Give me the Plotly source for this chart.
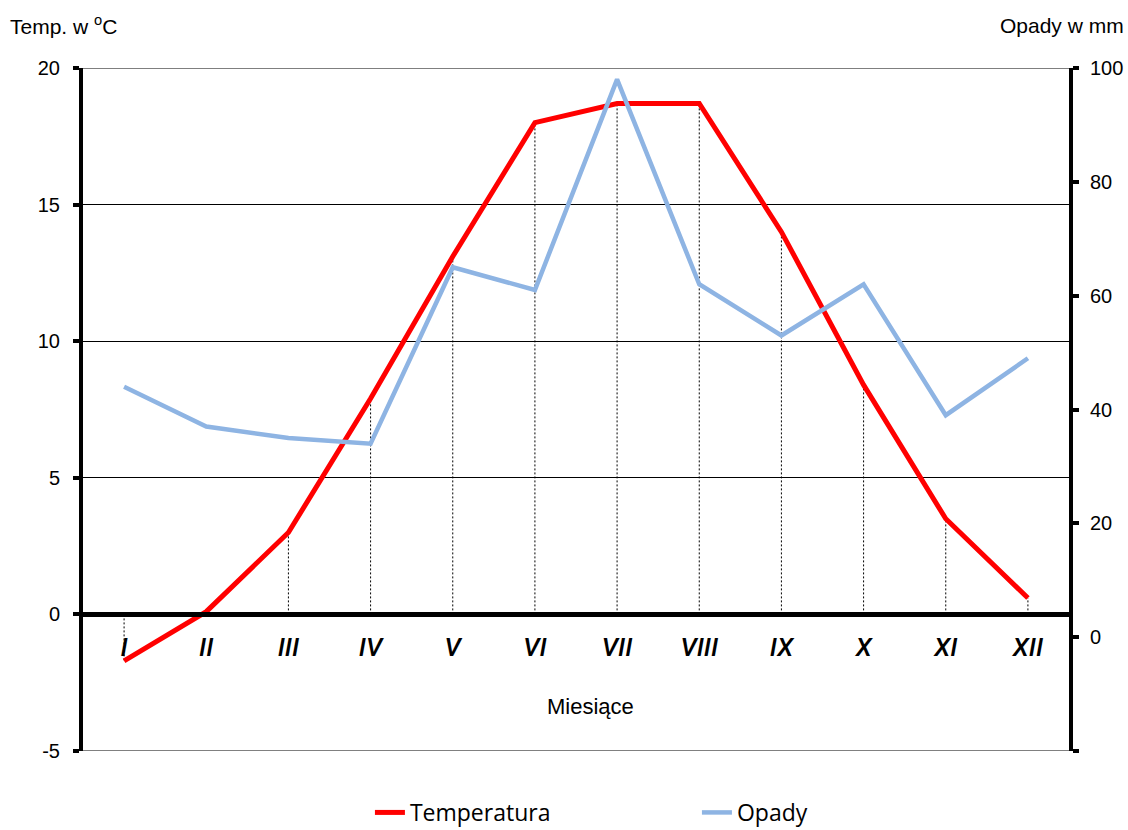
import plotly.graph_objects as go

months = ["I", "II", "III", "IV", "V", "VI", "VII", "VIII", "IX", "X", "XI", "XII"]
temperatura = [-1.7, 0.1, 3.0, 7.9, 13.1, 18.0, 18.7, 18.7, 14.0, 8.4, 3.5, 0.6]
opady = [44, 37, 35, 34, 65, 61, 98, 62, 53, 62, 39, 49]
temp_ticks = [-5, 0, 5, 10, 15, 20]
temp_ticklabels = ["-5", "0", "5", "10", "15", "20"]
opady_ticks = [0, 20, 40, 60, 80, 100]
opady_ticklabels = ["0", "20", "40", "60", "80", "100"]

drop_x, drop_y = [], []
for m, t in zip(months, temperatura):
    drop_x += [m, m, None]
    drop_y += [0, t, None]

fig = go.Figure()
fig.add_trace(go.Scatter(x=drop_x, y=drop_y, mode="lines",
                         line=dict(color="black", width=1, dash="2px,2px"),
                         showlegend=False, hoverinfo="skip"))
fig.add_trace(go.Scatter(x=months, y=temperatura, mode="lines", name="Temperatura",
                         line=dict(color="#FF0000", width=5)))
fig.add_trace(go.Scatter(x=months, y=opady, mode="lines", name="Opady", yaxis="y2",
                         line=dict(color="#8EB4E3", width=4.5)))

# frame lines at the top (20) and bottom (-5) of the temperature axis
for yv in (temp_ticks[0], temp_ticks[-1]):
    fig.add_shape(type="line", xref="paper", yref="y", x0=0, x1=1, y0=yv, y1=yv,
                  line=dict(color="black", width=1), layer="below")

fig.update_layout(
    width=1128, height=830,
    margin=dict(l=83, r=59, t=68, b=79, autoexpand=False),
    plot_bgcolor="white", paper_bgcolor="white",
    font=dict(family="Liberation Sans, Arial", size=20, color="black"),
    xaxis=dict(type="category", categoryorder="array", categoryarray=months,
               range=[-0.5, 11.5], anchor="free", position=0.2,
               showline=True, linecolor="black", linewidth=5,
               ticks="", showgrid=False, zeroline=False,
               ticklabelstandoff=7,
               tickfont=dict(family="Roboto", size=26, style="italic", weight=500)),
    yaxis=dict(range=[-5, 20], tickvals=temp_ticks, ticktext=temp_ticklabels,
               showline=True, linecolor="black", linewidth=4,
               ticks="outside", ticklen=6, tickwidth=4, tickcolor="black",
               showgrid=True, gridcolor="black", gridwidth=1, zeroline=False,
               ticklabelstandoff=9, tickfont=dict(size=20)),
    yaxis2=dict(range=[-20, 100], tickvals=opady_ticks, ticktext=opady_ticklabels,
                overlaying="y", side="right", showline=True, linecolor="black", linewidth=4,
                ticks="outside", ticklen=6, tickwidth=4, tickcolor="black",
                minor=dict(tick0=-20, dtick=20, ticks="outside", ticklen=6, tickwidth=4, tickcolor="black"),
                showgrid=False, zeroline=False, ticklabelstandoff=7, tickfont=dict(size=20)),
    legend=dict(orientation="h", x=0.291, xanchor="left", y=-0.090, yanchor="middle",
                entrywidth=282, entrywidthmode="pixels",
                font=dict(family="Open Sans", size=23)),
    annotations=[
        dict(text="Miesiące", xref="paper", yref="paper", x=(590 - 83) / 986, y=(751 - 706) / 683,
             showarrow=False, font=dict(size=22), xanchor="center", yanchor="middle"),
        dict(text="Temp. w <sup>o</sup>C", xref="paper", yref="paper", x=(8 - 83) / 986,
             y=(751 - 25) / 683, showarrow=False, font=dict(size=21), xanchor="left", yanchor="middle"),
        dict(text="Opady w mm", xref="paper", yref="paper", x=(1126 - 83) / 986,
             y=(751 - 25) / 683, showarrow=False, font=dict(size=21), xanchor="right", yanchor="middle"),
    ],
)

fig.write_html("out.html", config={"displayModeBar": False},
               post_script="document.body.style.margin='0';document.body.style.overflow='hidden';")
